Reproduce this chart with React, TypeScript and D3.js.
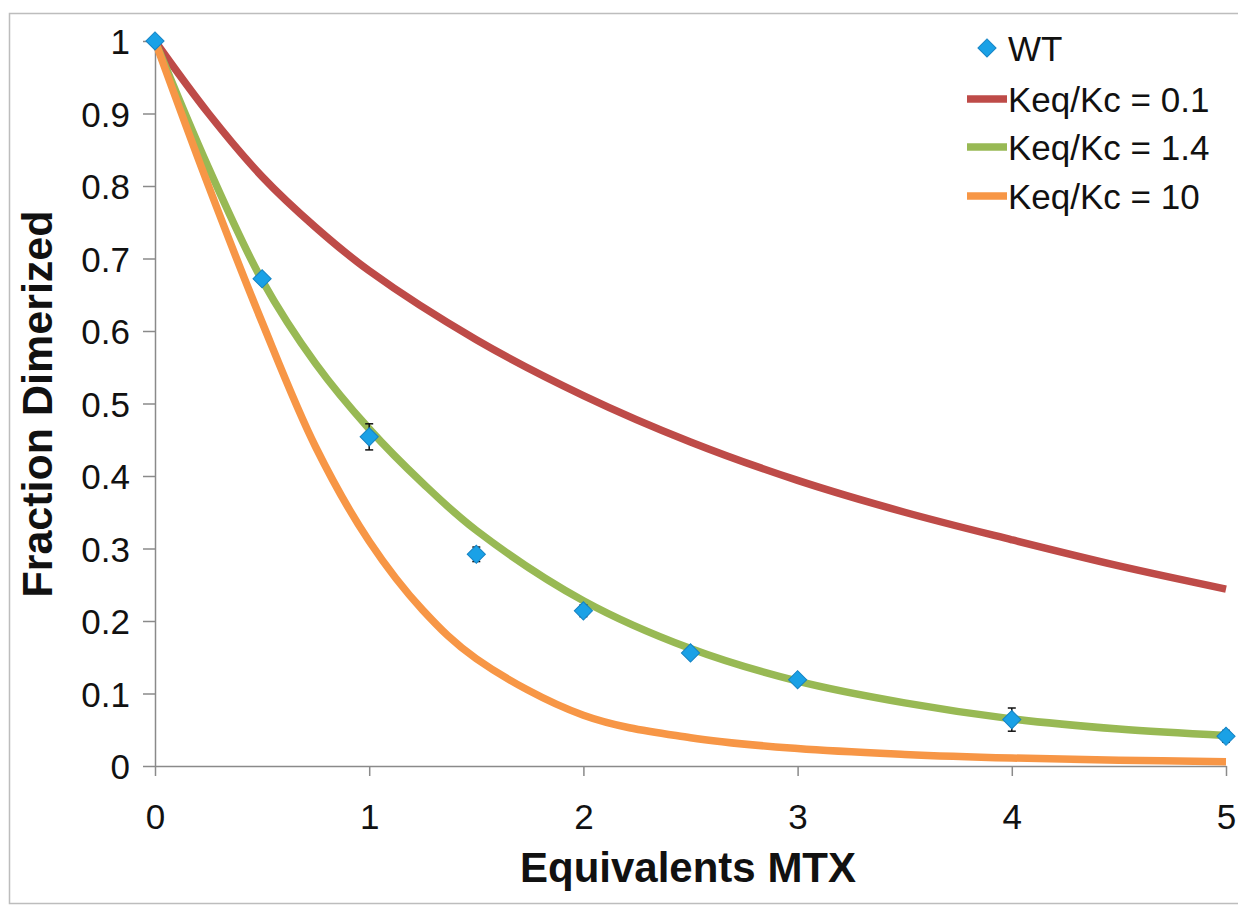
import * as d3 from "d3";
import { useEffect, useRef } from "react";

type Point = { x: number; y: number };

const width = 1238;
const height = 908;
const margin = { top: 41, right: 12, bottom: 142, left: 155 };
const innerWidth = 1226 - margin.left;
const innerHeight = 766 - margin.top;
const font = "'Liberation Sans', Arial, sans-serif";

// measured WT points (mean + error)
const wtX = [0, 0.5, 1, 1.5, 2, 2.5, 3, 4, 5];
const wtY = [1, 0.672, 0.454, 0.292, 0.214, 0.156, 0.119, 0.064, 0.041];
const wtErr = [0, 0, 0.018, 0.01, 0.008, 0.005, 0.005, 0.016, 0.008];

// model curves
const redX = [0, 0.25, 0.5, 0.75, 1, 1.5, 2, 2.5, 3, 3.5, 4, 4.5, 5];
const redY = [1, 0.9, 0.813, 0.743, 0.683, 0.588, 0.511, 0.447, 0.394, 0.35, 0.312, 0.276, 0.244];

const greenX = [0, 0.25, 0.5, 0.75, 1, 1.25, 1.5, 2, 2.5, 3, 3.5, 4, 4.5, 5];
const greenY = [1, 0.825, 0.67, 0.555, 0.465, 0.39, 0.325, 0.228, 0.162, 0.117, 0.087, 0.065, 0.051, 0.042];

const orangeX = [0, 0.25, 0.5, 0.75, 1, 1.25, 1.5, 2, 2.5, 3, 3.5, 4, 4.5, 5];
const orangeY = [1, 0.8, 0.612, 0.44, 0.31, 0.215, 0.148, 0.07, 0.039, 0.024, 0.016, 0.011, 0.008, 0.006];

const curveNames = ["Keq/Kc = 0.1", "Keq/Kc = 1.4", "Keq/Kc = 10"];
const curveColors = ["#BE4B48", "#98B954", "#F79646"];
const xTicks = [0, 1, 2, 3, 4, 5];
const yTicks = [0, 0.1, 0.2, 0.3, 0.4, 0.5, 0.6, 0.7, 0.8, 0.9, 1];

const zip = (xs: number[], ys: number[]): Point[] =>
  xs.map((x, i) => ({ x, y: ys[i] }));

const App = () => {
  const svgRef = useRef<SVGSVGElement | null>(null);

  useEffect(() => {
    const svg = d3.select(svgRef.current);
    svg.selectAll("*").remove();

    // outer frame
    svg
      .append("rect")
      .attr("x", 9.5)
      .attr("y", 13.5)
      .attr("width", 1240)
      .attr("height", 890)
      .attr("fill", "white")
      .attr("stroke", "#bdbdbd")
      .attr("stroke-width", 1.5);

    const g = svg
      .append("g")
      .attr("transform", `translate(${margin.left},${margin.top})`);

    const xScale = d3.scaleLinear().domain([0, 5]).range([0, innerWidth]);
    const yScale = d3.scaleLinear().domain([0, 1]).range([innerHeight, 0]);
    const plainFmt = (d: d3.NumberValue) => d3.format("")(+d);

    // axes
    const xAxis = g
      .append("g")
      .attr("transform", `translate(0,${innerHeight})`)
      .call(
        d3
          .axisBottom(xScale)
          .tickValues(xTicks)
          .tickSizeInner(10)
          .tickSizeOuter(0)
          .tickPadding(28)
          .tickFormat(plainFmt)
      );
    const yAxis = g
      .append("g")
      .call(
        d3
          .axisLeft(yScale)
          .tickValues(yTicks)
          .tickSizeInner(12)
          .tickSizeOuter(0)
          .tickPadding(13)
          .tickFormat(plainFmt)
      );
    [xAxis, yAxis].forEach((ax) => {
      ax.select(".domain").attr("stroke", "#8a8a8a").attr("stroke-width", 1.5);
      ax.selectAll(".tick line").attr("stroke", "#8a8a8a").attr("stroke-width", 1.5);
      ax.selectAll(".tick text")
        .attr("fill", "#111")
        .style("font-family", font)
        .style("font-size", "35px");
    });
    yAxis.selectAll(".tick text").attr("dy", "0.36em");

    // curves
    const line = d3
      .line<Point>()
      .x((d) => xScale(d.x))
      .y((d) => yScale(d.y))
      .curve(d3.curveCatmullRom.alpha(0.5));

    const curves = [zip(redX, redY), zip(greenX, greenY), zip(orangeX, orangeY)];
    g.append("g")
      .selectAll("path")
      .data(curves)
      .join("path")
      .attr("fill", "none")
      .attr("stroke", (_, i) => curveColors[i])
      .attr("stroke-width", 7.5)
      .attr("stroke-linecap", "butt")
      .attr("d", line);

    // WT points with error bars
    const wt = wtX.map((x, i) => ({ x, y: wtY[i], e: wtErr[i] }));
    const errG = g.append("g").attr("stroke", "#111").attr("stroke-width", 1.5);
    wt.filter((d) => d.e > 0).forEach((d) => {
      const cx = xScale(d.x);
      const y0 = yScale(d.y - d.e);
      const y1 = yScale(d.y + d.e);
      errG.append("line").attr("x1", cx).attr("x2", cx).attr("y1", y0).attr("y2", y1);
      errG.append("line").attr("x1", cx - 4).attr("x2", cx + 4).attr("y1", y0).attr("y2", y0);
      errG.append("line").attr("x1", cx - 4).attr("x2", cx + 4).attr("y1", y1).attr("y2", y1);
    });

    const diamond = d3.symbol().type(d3.symbolSquare).size(165);
    g.append("g")
      .selectAll("path")
      .data(wt)
      .join("path")
      .attr("d", diamond)
      .attr("transform", (d) => `translate(${xScale(d.x)},${yScale(d.y)}) rotate(45)`)
      .attr("fill", "#1AA1E6")
      .attr("stroke", "#1583c4")
      .attr("stroke-width", 1);

    // axis titles
    svg
      .append("text")
      .attr("x", 688)
      .attr("y", 882)
      .attr("text-anchor", "middle")
      .style("font-family", font)
      .style("font-size", "42px")
      .style("font-weight", "bold")
      .attr("fill", "#111")
      .text("Equivalents MTX");

    svg
      .append("text")
      .attr("transform", "translate(52,404) rotate(-90)")
      .attr("text-anchor", "middle")
      .style("font-family", font)
      .style("font-size", "43px")
      .style("font-weight", "bold")
      .attr("fill", "#111")
      .text("Fraction Dimerized");

    // legend
    const legend = svg.append("g");
    const rowY = [48, 99, 147, 196];
    const textX = 1008;
    legend
      .append("path")
      .attr("d", diamond)
      .attr("transform", `translate(987,${rowY[0]}) rotate(45)`)
      .attr("fill", "#1AA1E6")
      .attr("stroke", "#1583c4");
    legend
      .append("text")
      .attr("x", textX)
      .attr("y", rowY[0] + 13)
      .style("font-family", font)
      .style("font-size", "35px")
      .attr("fill", "#111")
      .text("WT");
    curveNames.forEach((name, i) => {
      const y = rowY[i + 1];
      legend
        .append("line")
        .attr("x1", 967)
        .attr("x2", 1007)
        .attr("y1", y)
        .attr("y2", y)
        .attr("stroke", curveColors[i])
        .attr("stroke-width", 7.5);
      legend
        .append("text")
        .attr("x", textX)
        .attr("y", y + 13)
        .style("font-family", font)
        .style("font-size", "35px")
        .attr("fill", "#111")
        .text(name);
    });
  }, []);

  return (
    <div style={{ position: "absolute", left: 0, top: 0 }}>
      <svg ref={svgRef} width={width} height={height} style={{ display: "block" }} />
    </div>
  );
};

export default App;
